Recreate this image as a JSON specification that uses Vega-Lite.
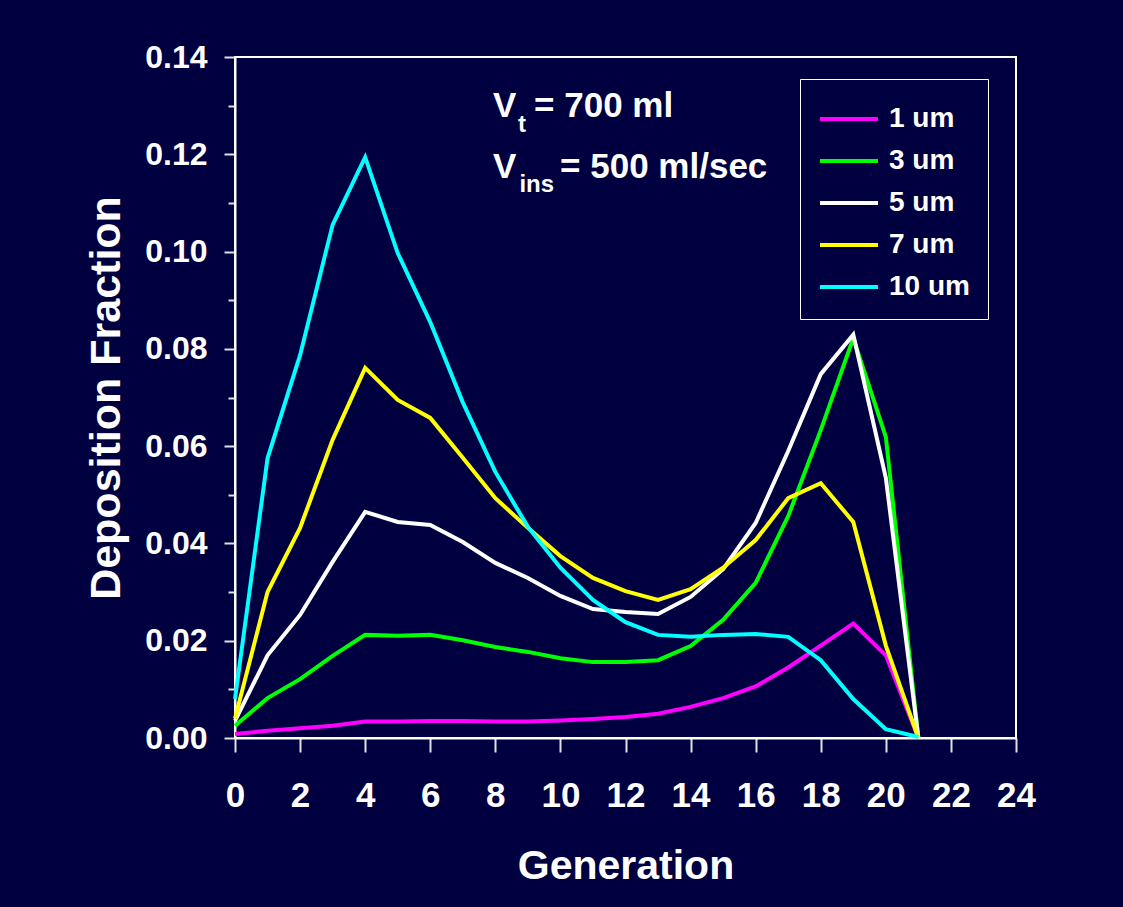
{
  "$schema": "https://vega.github.io/schema/vega-lite/v6.json",
  "width": 781,
  "height": 681,
  "autosize": {"type": "none"},
  "padding": {"left": 235, "top": 57, "right": 107, "bottom": 169},
  "background": "#000040",
  "config": {
    "font": "Liberation Sans",
    "view": {"stroke": "white", "strokeWidth": 2},
    "axis": {
      "grid": false,
      "domainColor": "white",
      "domainWidth": 2,
      "tickColor": "#e0e0e0",
      "tickWidth": 2,
      "labelColor": "white",
      "labelFont": "Liberation Sans",
      "labelFontWeight": "bold",
      "titleColor": "white",
      "titleFont": "Liberation Sans",
      "titleFontWeight": "bold",
      "labelOverlap": false,
      "labelFlush": false
    }
  },
  "layer": [
    {
      "data": {
        "values": [
          {"g": 0, "1 um": 0.0008, "3 um": 0.0025, "5 um": 0.0035, "7 um": 0.004, "10 um": 0.008},
          {"g": 1, "1 um": 0.0015, "3 um": 0.0082, "5 um": 0.017, "7 um": 0.030, "10 um": 0.0575},
          {"g": 2, "1 um": 0.002, "3 um": 0.0121, "5 um": 0.0253, "7 um": 0.0432, "10 um": 0.0787},
          {"g": 3, "1 um": 0.0025, "3 um": 0.0169, "5 um": 0.0362, "7 um": 0.0613, "10 um": 0.1055},
          {"g": 4, "1 um": 0.0034, "3 um": 0.0212, "5 um": 0.0465, "7 um": 0.0761, "10 um": 0.1194},
          {"g": 5, "1 um": 0.0034, "3 um": 0.021, "5 um": 0.0444, "7 um": 0.0695, "10 um": 0.0997},
          {"g": 6, "1 um": 0.0035, "3 um": 0.0212, "5 um": 0.0438, "7 um": 0.0658, "10 um": 0.0855},
          {"g": 7, "1 um": 0.0035, "3 um": 0.0201, "5 um": 0.0403, "7 um": 0.0576, "10 um": 0.069},
          {"g": 8, "1 um": 0.0034, "3 um": 0.0187, "5 um": 0.036, "7 um": 0.0493, "10 um": 0.0547},
          {"g": 9, "1 um": 0.0034, "3 um": 0.0177, "5 um": 0.0329, "7 um": 0.0432, "10 um": 0.0434},
          {"g": 10, "1 um": 0.0036, "3 um": 0.0164, "5 um": 0.0292, "7 um": 0.0374, "10 um": 0.035},
          {"g": 11, "1 um": 0.0039, "3 um": 0.0156, "5 um": 0.0265, "7 um": 0.0329, "10 um": 0.0284},
          {"g": 12, "1 um": 0.0043, "3 um": 0.0156, "5 um": 0.0259, "7 um": 0.0302, "10 um": 0.0238},
          {"g": 13, "1 um": 0.005, "3 um": 0.016, "5 um": 0.0255, "7 um": 0.0284, "10 um": 0.0212},
          {"g": 14, "1 um": 0.0064, "3 um": 0.0189, "5 um": 0.029, "7 um": 0.0306, "10 um": 0.0208},
          {"g": 15, "1 um": 0.0082, "3 um": 0.0243, "5 um": 0.0347, "7 um": 0.035, "10 um": 0.0212},
          {"g": 16, "1 um": 0.0106, "3 um": 0.0319, "5 um": 0.0442, "7 um": 0.0407, "10 um": 0.0214},
          {"g": 17, "1 um": 0.0145, "3 um": 0.0456, "5 um": 0.059, "7 um": 0.0493, "10 um": 0.0208},
          {"g": 18, "1 um": 0.019, "3 um": 0.0633, "5 um": 0.0748, "7 um": 0.0524, "10 um": 0.016},
          {"g": 19, "1 um": 0.0235, "3 um": 0.0822, "5 um": 0.0829, "7 um": 0.0444, "10 um": 0.008},
          {"g": 20, "1 um": 0.017, "3 um": 0.0619, "5 um": 0.0535, "7 um": 0.019, "10 um": 0.0018},
          {"g": 21, "1 um": 0.0, "3 um": 0.0, "5 um": 0.0, "7 um": 0.0, "10 um": 0.0002}
        ]
      },
      "transform": [
        {"fold": ["1 um", "3 um", "5 um", "7 um", "10 um"], "as": ["size", "frac"]}
      ],
      "mark": {"type": "line", "strokeWidth": 4, "strokeJoin": "miter"},
      "encoding": {
        "x": {
          "field": "g",
          "type": "quantitative",
          "scale": {"domain": [0, 24], "nice": false, "zero": false},
          "axis": {
            "title": "Generation",
            "values": [0,1,2,3,4,5,6,7,8,9,10,11,12,13,14,15,16,17,18,19,20,21,22,23,24],
            "labelExpr": "datum.value % 2 === 0 ? datum.label : ''",
            "tickSize": {"condition": {"test": "datum.value % 2 === 0", "value": 14}, "value": 9},
            "labelFontSize": 35,
            "labelPadding": 26,
            "titleFontSize": 41,
            "titlePadding": 33
          }
        },
        "y": {
          "field": "frac",
          "type": "quantitative",
          "scale": {"domain": [0, 0.14], "nice": false},
          "axis": {
            "title": "Deposition Fraction",
            "values": [0,0.01,0.02,0.03,0.04,0.05,0.06,0.07,0.08,0.09,0.10,0.11,0.12,0.13,0.14],
            "format": ".2f",
            "labelExpr": "round(datum.value * 100) % 2 === 0 ? datum.label : ''",
            "tickSize": {"condition": {"test": "round(datum.value * 100) % 2 === 0", "value": 11}, "value": 7},
            "labelFontSize": 32,
            "labelPadding": 17,
            "titleFontSize": 43,
            "titlePadding": 16
          }
        },
        "color": {
          "field": "size",
          "type": "nominal",
          "scale": {
            "domain": ["1 um", "3 um", "5 um", "7 um", "10 um"],
            "range": ["#ff00ff", "#00ff00", "#ffffff", "#ffff00", "#00ffff"]
          },
          "legend": {
            "title": null,
            "orient": "none",
            "legendX": 565,
            "legendY": 22,
            "symbolType": "M-1,0H1.9",
            "symbolSize": 1600,
            "symbolStrokeWidth": 4,
            "labelFontSize": 28,
            "labelFont": "Liberation Sans",
            "labelFontWeight": "bold",
            "labelColor": "white",
            "labelOffset": 27,
            "strokeColor": "white",
            "fillColor": "#000040",
            "padding": 18,
            "rowPadding": 6
          }
        }
      }
    },
    {
      "data": {
        "values": [
          {"x": 7.93, "y": 0.1277, "t": "V"},
          {"x": 9.19, "y": 0.1277, "t": "= 700 ml"},
          {"x": 7.93, "y": 0.1151, "t": "V"},
          {"x": 9.99, "y": 0.1151, "t": "= 500 ml/sec"}
        ]
      },
      "mark": {"type": "text", "align": "left", "baseline": "alphabetic", "font": "Liberation Sans", "fontWeight": "bold", "fontSize": 35, "color": "white"},
      "encoding": {
        "x": {"field": "x", "type": "quantitative"},
        "y": {"field": "y", "type": "quantitative"},
        "text": {"field": "t"}
      }
    },
    {
      "data": {
        "values": [
          {"x": 8.70, "y": 0.1246, "t": "t"},
          {"x": 8.74, "y": 0.1123, "t": "ins"}
        ]
      },
      "mark": {"type": "text", "align": "left", "baseline": "alphabetic", "font": "Liberation Sans", "fontWeight": "bold", "fontSize": 24, "color": "white"},
      "encoding": {
        "x": {"field": "x", "type": "quantitative"},
        "y": {"field": "y", "type": "quantitative"},
        "text": {"field": "t"}
      }
    }
  ]
}
